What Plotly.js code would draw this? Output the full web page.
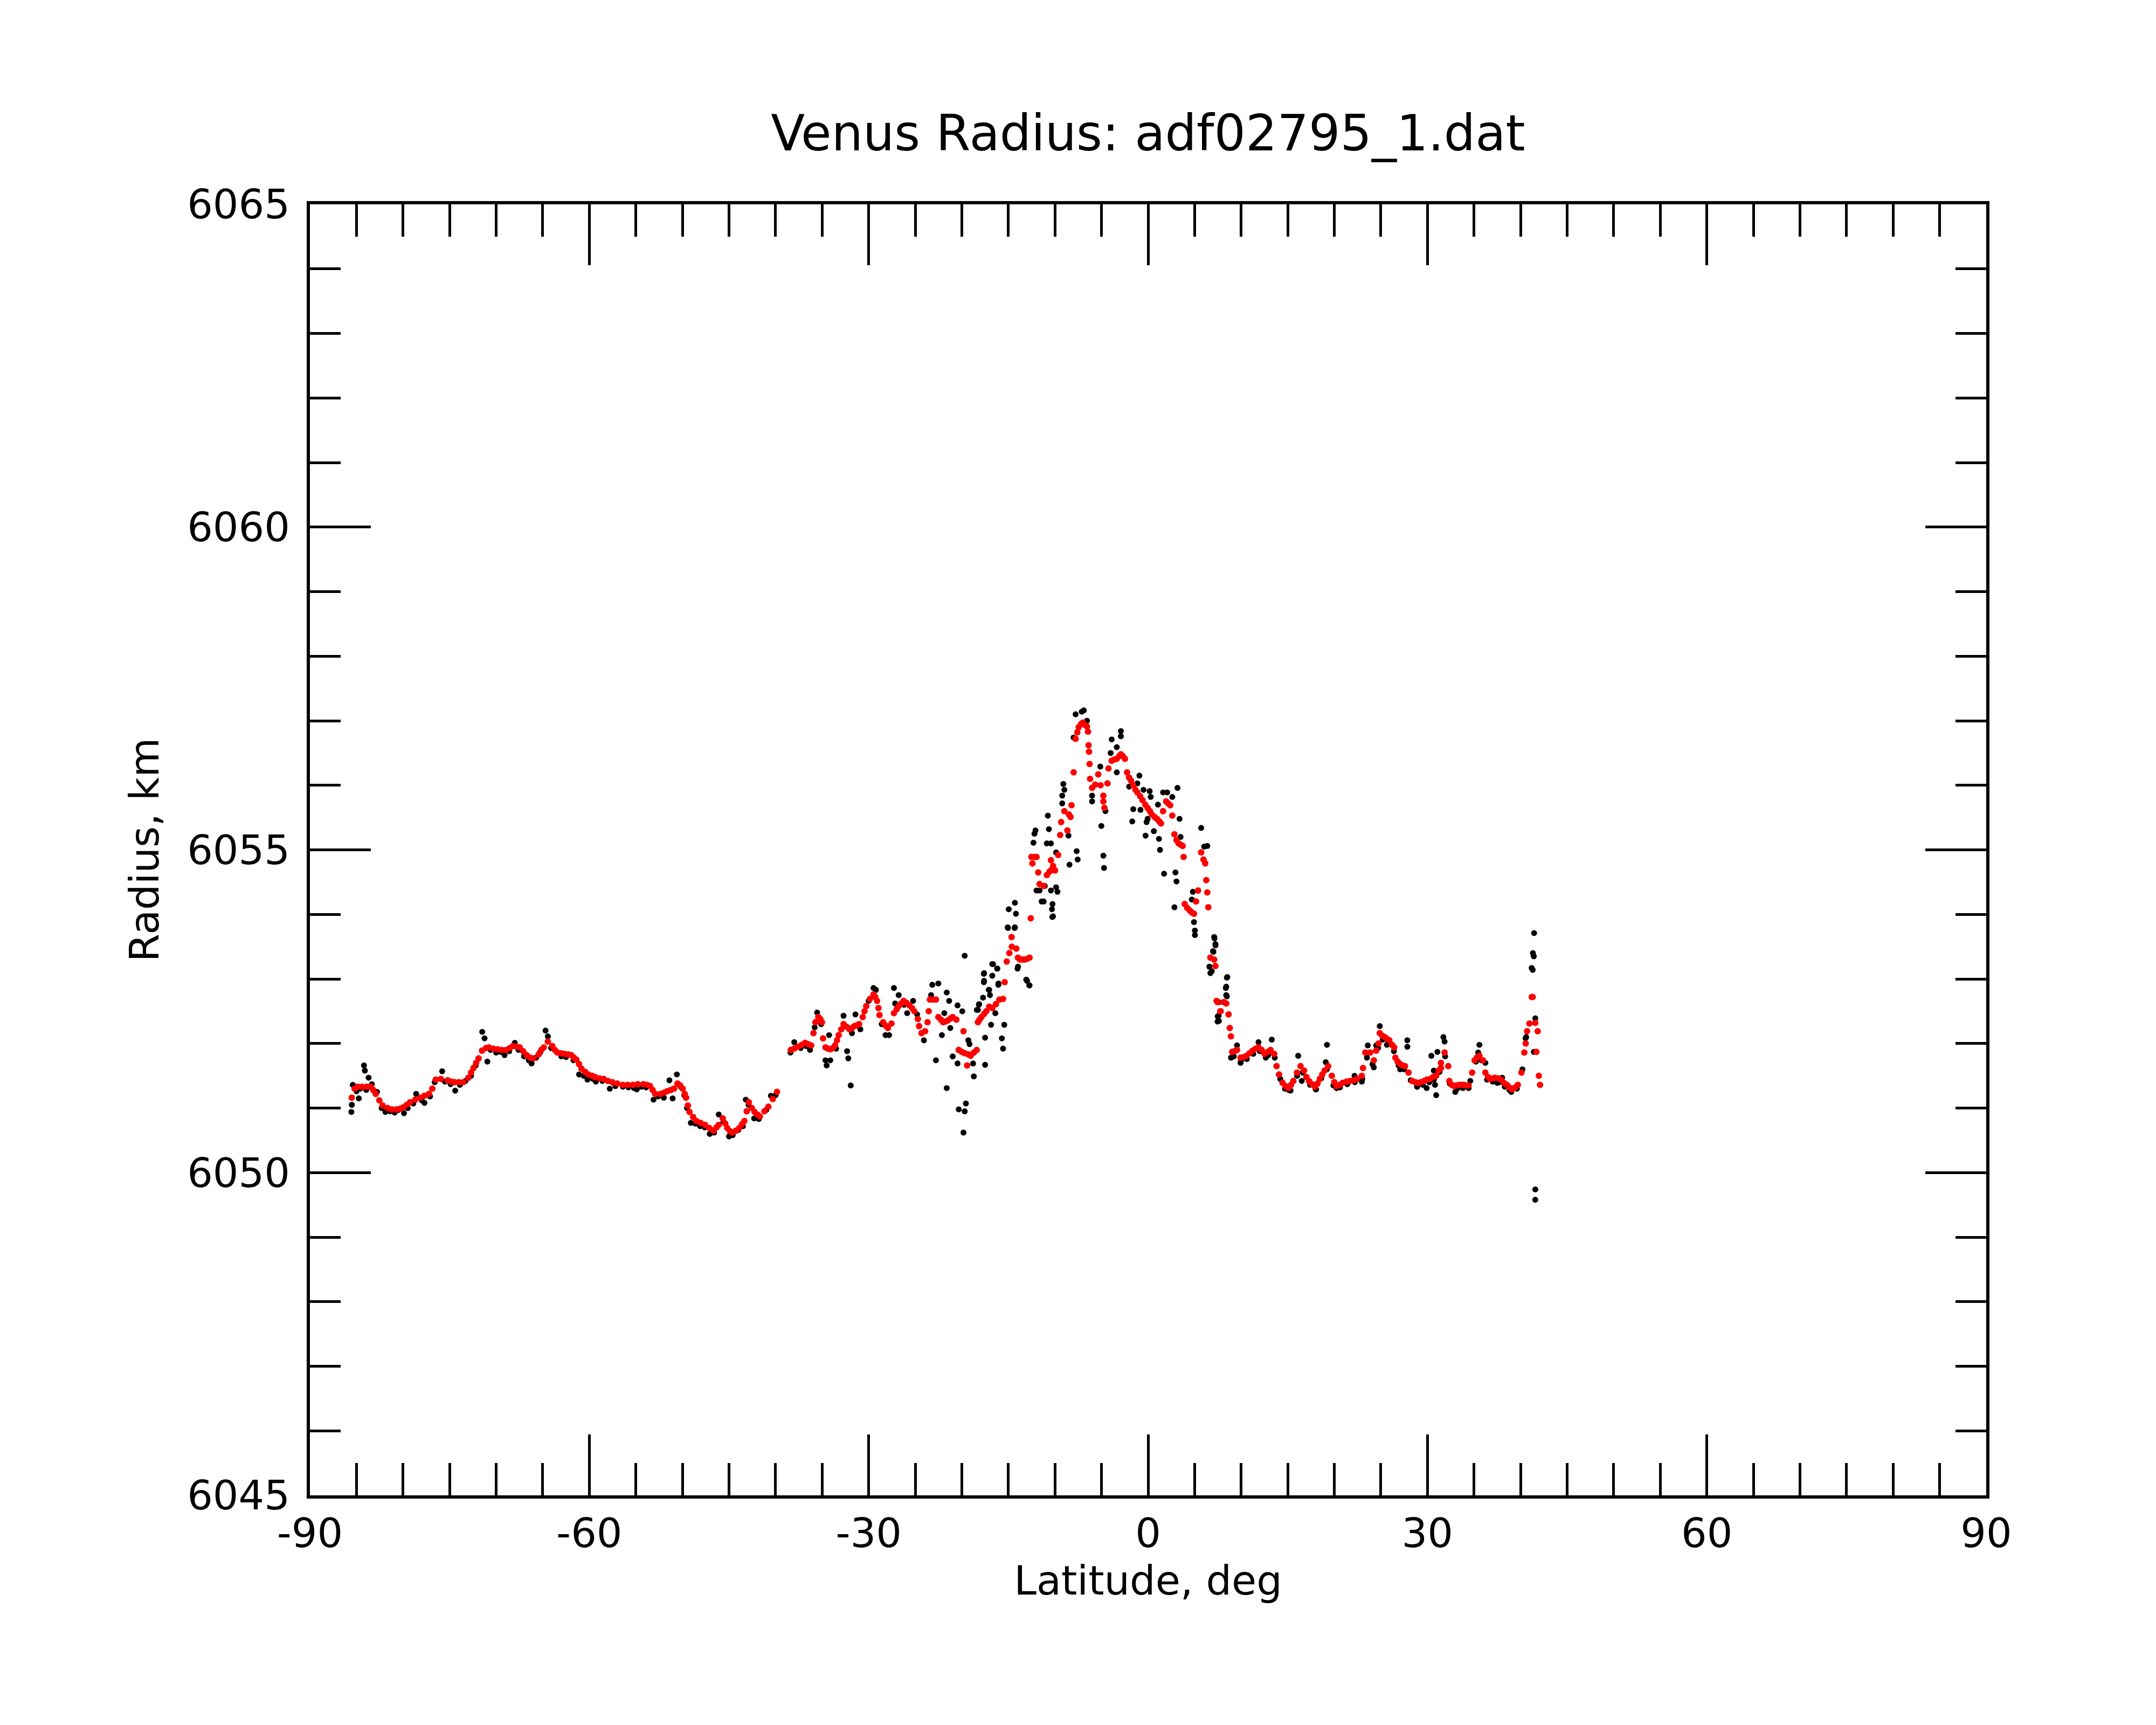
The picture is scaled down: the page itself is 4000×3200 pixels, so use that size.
<!DOCTYPE html>
<html lang="en">
  <head>
    <meta charset="UTF-8" />
    <title>Venus Radius</title>
    <script src="https://cdn.plot.ly/plotly-3.0.1.min.js"></script>
    <style>
      html,
      body {
        margin: 0;
        padding: 0;
        background: #ffffff;
      }
      #chart {
        width: 4000px;
        height: 3200px;
      }
    </style>
  </head>
  <body>
    <div id="chart"></div>

    <script>
      // axis ticks
      const xTickVals = [-90, -60, -30, 0, 30, 60, 90];
      const xTickText = ["-90", "-60", "-30", "0", "30", "60", "90"];
      const yTickVals = [6045, 6050, 6055, 6060, 6065];
      const yTickText = ["6045", "6050", "6055", "6060", "6065"];

      // smoothed radius (red), latitude in deg
      const redLat = [
        -85.51, -85.2, -84.85, -84.4, -83.9, -83.48, -83.2, -82.93, -82.55, -82.19, -81.64, -81.2,
        -80.72, -80.35, -79.99, -79.6, -79.25, -78.7, -78.14, -77.7, -77.22, -76.86, -76.49, -75.94,
        -75.2, -74.8, -74.46, -74.0, -73.54, -72.99, -72.7, -72.44, -72.15, -71.89, -71.52, -71.1,
        -70.78, -70.3, -69.86, -69.4, -68.94, -68.55, -68.2, -67.8, -67.47, -67.1, -66.73, -66.35,
        -65.99, -65.44, -65.15, -64.89, -64.45, -63.97, -63.7, -63.42, -63.05, -62.68, -62.3, -61.94,
        -61.65, -61.39, -61.1, -60.84, -60.45, -60.1, -59.7, -59.37, -58.9, -58.45, -58.0, -57.53,
        -57.0, -56.42, -55.9, -55.32, -54.8, -54.21, -53.8, -53.48, -53.2, -52.92, -52.37, -51.95,
        -51.63, -51.25, -50.9, -50.53, -50.25, -49.98, -49.75, -49.61, -49.42, -49.24, -48.85, -48.5,
        -48.05, -47.58, -47.1, -46.66, -46.35, -46.11, -45.67, -45.4, -45.19, -44.9, -44.64, -44.25,
        -43.9, -43.6, -43.35, -43.1, -42.87, -42.55, -42.25, -41.95, -41.69, -41.2, -40.77, -40.3,
        -39.85,
        -38.37, -38.0, -37.6, -37.2, -36.83, -36.5, -36.18, -35.93, -35.72, -35.41, -35.2, -35.02,
        -34.9, -34.64, -34.38, -34.12, -33.85, -33.61, -33.4, -33.22, -32.95, -32.7, -32.4, -32.06,
        -31.8, -31.55, -31.3, -31.03, -30.64, -30.45, -30.26, -29.87, -29.48, -29.3, -29.1, -28.95,
        -28.84, -28.45, -28.2, -27.94, -27.55, -27.29, -27.0, -26.78, -26.5, -26.26, -25.95, -25.62,
        -25.35, -25.1, -24.72, -24.59, -24.33, -23.94, -23.68, -23.55, -23.42, -23.1, -22.78, -22.52,
        -22.25, -22.01, -21.75, -21.49, -21.2, -20.98, -20.59, -20.33, -20.0, -19.82, -19.69, -19.43,
        -19.3, -19.05, -18.7, -18.4, -18.27, -18.1, -17.89, -17.6, -17.37, -17.06, -16.73, -16.34,
        -15.96, -15.57, -15.4, -15.18, -14.9, -14.63, -14.66, -14.15, -13.97, -13.76, -13.5, -13.25,
        -13.0, -12.73, -12.6, -12.42, -12.53, -12.25, -11.98, -11.8, -11.65, -11.21, -10.87, -10.6,
        -10.43, -10.43, -10.2, -9.99, -9.66, -9.44, -9.33, -8.99, -8.66, -8.5, -8.33, -8.22,
        -7.99, -7.78, -7.6, -7.45, -7.2, -7.0, -6.75, -6.56, -6.45, -6.39, -6.34, -6.28,
        -6.23, -6.01, -5.68, -5.35, -5.1, -4.8, -4.8, -4.69, -4.36, -4.25, -3.91, -3.6,
        -3.36, -3.1, -2.92, -2.7, -2.48, -2.26, -2.05, -1.82, -1.59, -1.35, -1.15, -0.85,
        -0.6, -0.3, -0.05, 0.2, 0.4, 0.7, 0.95, 1.2, 1.39, 1.61, 1.94, 2.15,
        2.38, 2.6, 2.83, 3.05, 3.27, 3.5, 3.71, 3.82, 3.93, 4.2, 4.48, 4.7,
        4.93, 5.15, 5.37, 5.7, 5.95, 6.14, 6.25, 6.36, 6.47, 6.69, 7.1, 7.23,
        7.35, 7.46, 7.74, 7.8, 8.13, 8.39, 8.64, 8.77, 8.9, 9.03, 9.3, 9.55,
        9.93, 10.25, 10.58, 10.9, 11.22, 11.55, 11.86, 12.2, 12.51, 12.85, 13.15, 13.54,
        13.8, 14.06, 14.44, 14.75, 15.09, 15.35, 15.6, 15.99, 16.37, 16.76, 17.0, 17.28,
        17.6, 17.92, 18.2, 18.44, 18.7, 18.95, 19.34, 19.73, 20.0, 20.24, 20.55, 20.89,
        21.3, 21.66, 22.05, 22.43, 22.95, 23.08, 23.33, 23.85, 24.24, 24.49, 24.75, 24.88,
        25.15, 25.4, 25.65, 25.91, 26.2, 26.43, 26.55, 26.8, 27.07, 27.35, 27.59, 27.97,
        28.36, 28.7, 29.0, 29.3, 29.65, 29.95, 30.29, 30.6, 30.94, 31.2, 31.45, 31.45,
        31.84, 32.23, 32.35, 32.6, 32.87, 33.1, 33.39, 33.65, 33.9, 34.15, 34.42, 34.8,
        35.06, 35.3, 35.58, 35.96, 36.22, 36.5, 36.73, 37.0, 37.25, 37.6, 37.9, 38.2,
        38.54, 38.8, 39.06, 39.4, 39.7, 40.09, 40.4, 40.55, 40.7, 40.95, 41.2, 41.3,
        41.58, 41.84, 41.7, 41.96, 42.09
      ];
      const redRad = [
        6051.16, 6051.30, 6051.33, 6051.33, 6051.33, 6051.33, 6051.28, 6051.22, 6051.12, 6051.04, 6051.00, 6050.98,
        6050.98, 6050.99, 6051.01, 6051.05, 6051.09, 6051.13, 6051.16, 6051.19, 6051.22, 6051.30, 6051.44, 6051.45,
        6051.43, 6051.41, 6051.40, 6051.40, 6051.40, 6051.47, 6051.55, 6051.62, 6051.70, 6051.77, 6051.89, 6051.93,
        6051.94, 6051.92, 6051.91, 6051.90, 6051.90, 6051.93, 6051.96, 6051.95, 6051.94, 6051.88, 6051.82, 6051.78,
        6051.77, 6051.83, 6051.90, 6051.94, 6052.03, 6051.96, 6051.90, 6051.86, 6051.85, 6051.84, 6051.83, 6051.82,
        6051.78, 6051.75, 6051.68, 6051.61, 6051.56, 6051.52, 6051.50, 6051.48, 6051.46, 6051.45, 6051.42, 6051.40,
        6051.38, 6051.36, 6051.36, 6051.36, 6051.37, 6051.37, 6051.36, 6051.34, 6051.28, 6051.22, 6051.22, 6051.24,
        6051.26, 6051.28, 6051.30, 6051.38, 6051.35, 6051.30, 6051.22, 6051.16, 6051.04, 6050.94, 6050.86, 6050.80,
        6050.77, 6050.74, 6050.69, 6050.65, 6050.70, 6050.74, 6050.84, 6050.76, 6050.69, 6050.64, 6050.62, 6050.65,
        6050.69, 6050.75, 6050.80, 6050.95, 6051.09, 6051.00, 6050.94, 6050.90, 6050.87, 6050.95, 6051.02, 6051.14,
        6051.25,
        6051.90, 6051.92, 6051.95, 6051.98, 6052.01, 6051.99, 6051.97, 6052.16, 6052.33, 6052.41, 6052.38, 6052.33,
        6052.08, 6051.94, 6051.92, 6051.91, 6051.93, 6051.97, 6052.05, 6052.13, 6052.22, 6052.30, 6052.26, 6052.22,
        6052.24, 6052.27, 6052.28, 6052.30, 6052.41, 6052.50, 6052.58, 6052.69, 6052.76, 6052.72, 6052.66, 6052.55,
        6052.44, 6052.33, 6052.28, 6052.24, 6052.31, 6052.47, 6052.53, 6052.58, 6052.62, 6052.66, 6052.63, 6052.59,
        6052.55, 6052.50, 6052.38, 6052.27, 6052.16, 6052.19, 6052.33, 6052.50, 6052.68, 6052.68, 6052.68, 6052.41,
        6052.37, 6052.33, 6052.34, 6052.36, 6052.39, 6052.41, 6052.37, 6051.90, 6051.87, 6052.19, 6051.85, 6051.66,
        6051.83, 6051.81, 6051.86, 6051.90, 6052.33, 6052.37, 6052.41, 6052.46, 6052.50, 6052.57, 6052.55, 6052.61,
        6052.68, 6052.69, 6052.95, 6053.27, 6053.40, 6053.50, 6053.65, 6053.47, 6053.33, 6053.30, 6053.30, 6053.30,
        6053.31, 6053.33, 6053.94, 6054.79, 6054.89, 6054.89, 6054.89, 6054.65, 6054.47, 6054.44, 6054.61, 6054.66,
        6054.68, 6054.84, 6054.75, 6054.68, 6054.92, 6055.23, 6055.43, 6055.60, 6055.30, 6055.55, 6055.51, 6055.69,
        6056.20, 6056.72, 6056.82, 6056.90, 6056.95, 6056.97, 6056.93, 6056.91, 6056.83, 6056.62, 6056.52, 6056.33,
        6056.10, 6055.96, 6056.01, 6056.17, 6056.00, 6055.84, 6055.75, 6055.65, 6056.03, 6056.26, 6056.38, 6056.40,
        6056.41, 6056.45, 6056.48, 6056.45, 6056.41, 6056.20, 6056.12, 6056.07, 6056.00, 6055.93, 6055.89, 6055.83,
        6055.77, 6055.70, 6055.65, 6055.60, 6055.55, 6055.51, 6055.48, 6055.44, 6055.41, 6055.60, 6055.75, 6055.72,
        6055.69, 6055.53, 6055.24, 6055.15, 6055.10, 6055.08, 6055.06, 6054.89, 6054.16, 6054.10, 6054.06, 6054.03,
        6054.01, 6054.20, 6054.37, 6054.96, 6054.85, 6054.79, 6054.53, 6054.34, 6054.11, 6053.33, 6053.30, 6053.20,
        6052.66, 6052.64, 6052.50, 6052.50, 6052.64, 6052.62, 6052.45, 6052.24, 6052.11, 6051.87, 6051.88, 6051.90,
        6051.78, 6051.79, 6051.81, 6051.85, 6051.89, 6051.92, 6051.94, 6051.90, 6051.84, 6051.87, 6051.90, 6051.84,
        6051.65, 6051.52, 6051.39, 6051.34, 6051.31, 6051.36, 6051.42, 6051.55, 6051.65, 6051.58, 6051.48, 6051.42,
        6051.37, 6051.33, 6051.38, 6051.45, 6051.52, 6051.58, 6051.65, 6051.50, 6051.40, 6051.34, 6051.36, 6051.39,
        6051.41, 6051.42, 6051.43, 6051.45, 6051.50, 6051.62, 6051.86, 6051.86, 6051.74, 6051.89, 6052.00, 6052.16,
        6052.12, 6052.10, 6052.07, 6052.05, 6051.98, 6051.94, 6051.78, 6051.72, 6051.68, 6051.66, 6051.65, 6051.55,
        6051.42, 6051.40, 6051.39, 6051.40, 6051.42, 6051.44, 6051.45, 6051.48, 6051.50, 6051.58, 6051.62, 6051.70,
        6051.86, 6051.65, 6051.42, 6051.36, 6051.34, 6051.35, 6051.36, 6051.36, 6051.36, 6051.35, 6051.35, 6051.55,
        6051.74, 6051.78, 6051.81, 6051.74, 6051.55, 6051.48, 6051.45, 6051.46, 6051.47, 6051.46, 6051.44, 6051.39,
        6051.36, 6051.32, 6051.29, 6051.32, 6051.36, 6051.55, 6051.86, 6052.00, 6052.19, 6052.31, 6052.72, 6052.72,
        6052.32, 6052.19, 6051.87, 6051.50, 6051.36
      ];

      // raw radius (black)
      const blackLat = [
        -85.55, -85.5, -85.4, -85.0, -84.75, -84.6, -84.2, -84.1, -83.95, -83.7, -83.35, -82.8,
        -82.3, -81.9, -81.4, -80.9, -80.5, -79.9, -79.5, -78.9, -78.6, -78.0, -77.7, -77.1,
        -76.6, -75.8, -75.5, -74.9, -74.4, -73.9, -73.3, -72.7, -72.2, -71.5, -71.25, -70.95,
        -70.6, -70.0, -69.5, -69.1, -68.6, -68.0, -67.6, -67.0, -66.5, -66.2, -65.7, -65.3,
        -64.7, -64.45, -64.1, -63.5, -63.0, -62.5, -62.2, -61.7, -61.1, -60.6, -60.2, -59.6,
        -59.3, -58.6, -57.8, -57.2, -56.4, -55.8, -55.2, -54.9, -54.4, -53.9, -53.1, -52.6,
        -52.0, -51.4, -51.05, -50.6, -50.2, -49.8, -49.5, -49.1, -48.6, -48.1, -47.6, -47.07,
        -46.6, -46.1, -45.6, -45.0, -44.6, -44.0, -43.5, -43.2, -42.9, -42.3, -41.8, -41.0,
        -40.5, -40.0,
        -38.4, -37.99, -37.3, -36.7, -36.3, -35.8, -35.54, -35.1, -34.64, -34.51, -34.25, -34.12,
        -33.5, -32.7, -32.32, -32.19, -31.93, -31.8, -31.42, -30.9, -30.0, -29.48, -29.22, -28.6,
        -28.19, -27.81, -27.29, -27.16, -26.78, -26.2, -25.87, -25.23, -24.8, -24.07, -23.3, -23.17,
        -22.52, -22.78, -22.14, -21.88, -21.62, -21.62, -21.36, -21.24, -20.98, -20.46, -20.46, -20.33,
        -19.95, -19.82, -19.69, -19.56, -19.69, -19.3, -19.17, -18.79, -18.71, -18.39, -18.27, -18.17,
        -18.14, -17.72, -17.61, -17.61, -17.5, -17.5, -17.63, -17.63, -17.11, -17.06, -16.98, -16.86,
        -16.73, -16.73, -16.65, -16.4, -16.21, -16.18, -16.08, -16.07, -15.7, -15.57, -15.44, -15.05,
        -15.07, -14.96, -14.33, -14.3, -14.3, -14.19, -14.02, -13.97, -13.08, -12.99, -12.75, -12.73,
        -12.31, -12.2, -12.09, -11.98, -11.65, -11.43, -11.21, -11.09, -10.87, -10.76, -10.65, -10.43,
        -10.43, -10.32, -10.28, -10.26, -10.21, -9.88, -9.88, -9.73, -9.22, -9.22, -9.1, -8.99,
        -8.55, -8.44, -8.0, -7.78, -7.67, -7.56, -7.12, -6.9, -6.56, -6.01, -6.01, -5.13,
        -5.02, -4.8, -4.73, -4.58, -4.02, -3.91, -3.36, -3.36, -2.92, -2.92, -2.03, -1.7,
        -1.59, -1.15, -0.93, -0.82, -0.49, -0.27, -0.16, -0.05, 0.17, 0.28, 0.62, 1.06,
        1.17, 1.28, 1.61, 1.72, 2.05, 2.6, 2.83, 2.94, 3.05, 3.16, 3.38, 3.49,
        4.7, 4.81, 4.93, 5.03, 5.03, 5.7, 6.03, 6.36, 6.58, 6.69, 6.84, 6.97,
        7.02, 7.1, 7.13, 7.23, 7.24, 7.46, 7.48, 7.57, 7.61, 7.61, 8.35, 8.39,
        8.39, 8.46, 8.46, 8.51, 8.9, 9.2, 9.55, 9.93, 10.0, 10.6, 11.3, 11.86,
        12.0, 12.64, 12.9, 13.28, 13.6, 14.2, 14.7, 15.09, 15.3, 16.0, 16.12, 16.5,
        16.6, 17.4, 18.0, 18.05, 18.6, 19.08, 19.2, 19.21, 19.9, 20.24, 20.6, 21.4,
        22.17, 22.2, 22.95, 23.0, 23.5, 23.59, 24.1, 24.24, 24.49, 24.7, 24.88, 25.2,
        25.65, 25.8, 26.4, 26.9, 27.07, 27.5, 27.84, 27.84, 28.2, 28.88, 28.9, 29.5,
        29.91, 30.2, 30.42, 30.68, 30.7, 30.81, 30.94, 31.07, 31.3, 31.71, 31.84, 31.9,
        32.4, 32.99, 33.2, 33.8, 34.42, 34.6, 35.2, 35.45, 35.58, 35.8, 36.22, 36.4,
        37.0, 37.5, 37.7, 38.02, 38.3, 38.8, 39.0, 39.6, 40.2, 40.54, 40.6, 41.19,
        41.32, 41.45, 41.3, 41.42, 41.58, 41.42, 41.58, 41.58
      ];
      const blackRad = [
        6050.94, 6051.05, 6051.36, 6051.26, 6051.15, 6051.30, 6051.66, 6051.58, 6051.28, 6051.47, 6051.37, 6051.25,
        6051.00, 6050.94, 6050.95, 6050.93, 6050.97, 6050.92, 6051.00, 6051.07, 6051.22, 6051.12, 6051.08, 6051.18,
        6051.40, 6051.57, 6051.41, 6051.37, 6051.27, 6051.36, 6051.42, 6051.50, 6051.66, 6052.18, 6052.08, 6051.72,
        6051.90, 6051.86, 6051.87, 6051.82, 6051.88, 6052.01, 6051.90, 6051.80, 6051.74, 6051.69, 6051.78, 6051.86,
        6052.20, 6052.11, 6051.93, 6051.87, 6051.80, 6051.79, 6051.83, 6051.74, 6051.52, 6051.50, 6051.44, 6051.45,
        6051.41, 6051.42, 6051.30, 6051.34, 6051.33, 6051.32, 6051.31, 6051.29, 6051.33, 6051.32, 6051.13, 6051.18,
        6051.16, 6051.43, 6051.15, 6051.52, 6051.33, 6051.20, 6051.00, 6050.77, 6050.76, 6050.72, 6050.70, 6050.60,
        6050.62, 6050.90, 6050.79, 6050.56, 6050.58, 6050.66, 6050.72, 6051.13, 6051.05, 6050.84, 6050.83, 6050.97,
        6051.19, 6051.20,
        6051.86, 6052.02, 6051.93, 6051.96, 6051.90, 6052.25, 6052.48, 6052.30, 6051.74, 6051.66, 6052.13, 6051.74,
        6051.92, 6052.43, 6051.88, 6051.77, 6051.35, 6052.16, 6052.45, 6052.22, 6052.66, 6052.86, 6052.83, 6052.30,
        6052.13, 6052.13, 6052.86, 6052.62, 6052.75, 6052.60, 6052.47, 6052.66, 6052.45, 6052.05, 6052.75, 6052.91,
        6052.93, 6051.74, 6052.13, 6052.47, 6052.79, 6051.31, 6052.66, 6052.24, 6051.80, 6052.59, 6051.69, 6050.98,
        6052.50, 6050.62, 6050.95, 6051.07, 6053.36, 6052.05, 6051.99, 6051.69, 6051.49, 6052.52, 6052.52, 6052.60,
        6052.61, 6052.71, 6053.09, 6052.97, 6052.09, 6051.67, 6052.95, 6053.08, 6052.83, 6052.83, 6052.75, 6052.29,
        6053.23, 6053.05, 6053.23, 6052.47, 6053.16, 6053.16, 6052.91, 6052.93, 6052.08, 6051.92, 6052.29, 6053.79,
        6053.80, 6054.08, 6053.79, 6054.18, 6053.80, 6054.01, 6053.16, 6053.19, 6052.99, 6052.97, 6052.90, 6052.90,
        6055.11, 6055.25, 6055.30, 6054.37, 6054.37, 6054.20, 6054.20, 6054.44, 6055.10, 6055.53, 6055.32, 6055.10,
        6054.37, 6054.08, 6053.96, 6054.16, 6053.97, 6054.96, 6054.42, 6054.35, 6055.84, 6055.72, 6056.02, 6055.93,
        6055.22, 6054.77, 6056.74, 6057.10, 6054.98, 6054.85, 6057.14, 6057.16, 6057.00, 6055.84, 6055.75, 6056.29,
        6055.37, 6054.91, 6054.72, 6055.60, 6056.50, 6056.71, 6056.59, 6056.20, 6056.84, 6056.76, 6055.98, 6055.44,
        6055.63, 6056.03, 6056.15, 6055.62, 6055.93, 6055.22, 6055.43, 6055.48, 6055.91, 6055.82, 6055.29, 6055.70,
        6055.17, 6055.00, 6055.89, 6054.63, 6055.89, 6055.82, 6054.11, 6054.65, 6054.51, 6055.96, 6055.48, 6055.20,
        6054.23, 6054.35, 6053.88, 6053.75, 6053.68, 6055.34, 6055.05, 6055.06, 6053.19, 6053.09, 6053.12, 6053.43,
        6053.42, 6053.65, 6053.63, 6053.54, 6053.52, 6052.34, 6052.42, 6052.43, 6052.64, 6052.35, 6052.86, 6052.88,
        6052.75, 6053.02, 6052.73, 6053.03, 6051.78, 6051.80, 6051.97, 6051.70, 6051.74, 6051.76, 6051.84, 6052.02,
        6051.88, 6051.78, 6051.82, 6052.06, 6051.78, 6051.45, 6051.30, 6051.28, 6051.27, 6051.50, 6051.81, 6051.42,
        6051.55, 6051.36, 6051.29, 6051.29, 6051.46, 6051.71, 6051.60, 6051.98, 6051.35, 6051.31, 6051.32, 6051.37,
        6051.50, 6051.40, 6051.41, 6051.45, 6051.78, 6051.97, 6051.68, 6051.63, 6051.97, 6051.93, 6052.27, 6052.06,
        6051.98, 6052.00, 6051.88, 6051.66, 6051.60, 6051.60, 6052.05, 6051.95, 6051.43, 6051.33, 6051.33, 6051.36,
        6051.31, 6051.40, 6051.81, 6051.58, 6051.44, 6051.36, 6051.20, 6051.87, 6051.56, 6052.10, 6052.03, 6051.80,
        6051.38, 6051.25, 6051.30, 6051.31, 6051.31, 6051.42, 6051.72, 6051.86, 6051.98, 6051.74, 6051.70, 6051.44,
        6051.41, 6051.39, 6051.40, 6051.47, 6051.33, 6051.28, 6051.25, 6051.30, 6051.60, 6052.08, 6052.10, 6053.17,
        6053.40, 6053.71, 6053.14, 6053.35, 6052.39, 6051.87, 6049.74, 6049.58
      ];

      const traces = [
        {
          x: blackLat,
          y: blackRad,
          type: "scatter",
          mode: "markers",
          marker: { color: "#000000", size: 11 },
          hoverinfo: "skip",
        },
        {
          x: redLat,
          y: redRad,
          type: "scatter",
          mode: "markers",
          marker: { color: "#ff0000", size: 12 },
          hoverinfo: "skip",
        },
      ];

      const font = "DejaVu Sans, Liberation Sans, sans-serif";

      const layout = {
        width: 4000,
        height: 3200,
        margin: { l: 575, r: 315, t: 379, b: 426 },
        paper_bgcolor: "#ffffff",
        plot_bgcolor: "#ffffff",
        showlegend: false,
        font: { family: font, color: "#000000", size: 75 },
        title: {
          text: "Venus Radius: adf02795_1.dat",
          font: { family: font, size: 92, color: "#000000" },
          x: 0.5,
          xref: "paper",
          xanchor: "center",
          y: 0.923,
          yref: "container",
          yanchor: "middle",
        },
        xaxis: {
          range: [-90, 90],
          tickmode: "array",
          tickvals: xTickVals,
          ticktext: xTickText,
          ticks: "inside",
          ticklen: 113,
          tickwidth: 5,
          tickcolor: "#000000",
          minor: {
            ticks: "inside",
            tick0: -90,
            dtick: 5,
            ticklen: 60,
            tickwidth: 5,
            tickcolor: "#000000",
            showgrid: false,
          },
          showline: true,
          linewidth: 6,
          linecolor: "#000000",
          mirror: "allticks",
          showgrid: false,
          zeroline: false,
          tickfont: { family: font, size: 75 },
          ticklabelstandoff: 0,
          automargin: false,
          title: {
            text: "Latitude, deg",
            font: { family: font, size: 75 },
            standoff: 0,
          },
        },
        yaxis: {
          range: [6045, 6065],
          tickmode: "array",
          tickvals: yTickVals,
          ticktext: yTickText,
          ticks: "inside",
          ticklen: 113,
          tickwidth: 5,
          tickcolor: "#000000",
          minor: {
            ticks: "inside",
            tick0: 6045,
            dtick: 1,
            ticklen: 57,
            tickwidth: 5,
            tickcolor: "#000000",
            showgrid: false,
          },
          showline: true,
          linewidth: 6,
          linecolor: "#000000",
          mirror: "allticks",
          showgrid: false,
          zeroline: false,
          tickfont: { family: font, size: 75 },
          ticklabelstandoff: 16,
          automargin: false,
          title: {
            text: "Radius, km",
            font: { family: font, size: 75 },
            standoff: 30,
          },
        },
      };

      Plotly.newPlot("chart", traces, layout, {
        displayModeBar: false,
        staticPlot: true,
      });
    </script>
  </body>
</html>
